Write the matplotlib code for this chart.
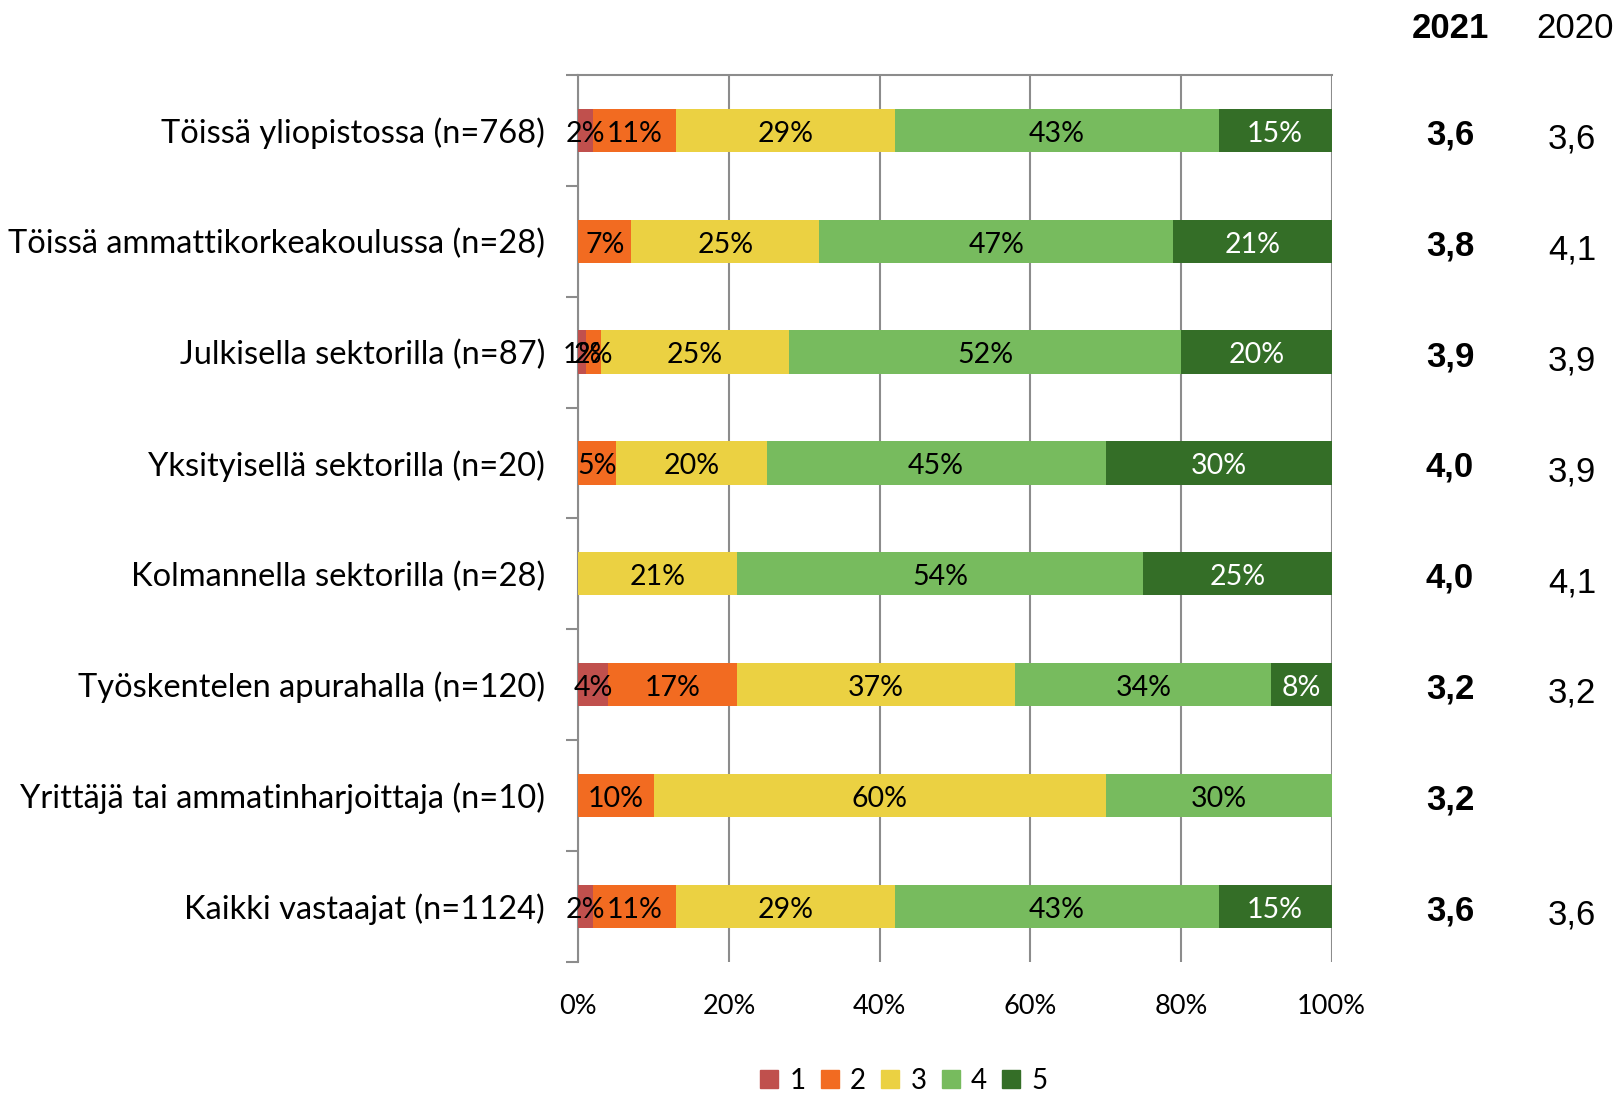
import numpy as np
import matplotlib
matplotlib.use("Agg")
import matplotlib.pyplot as plt
from matplotlib.patches import Patch

# DATA
categories = ['Töissä yliopistossa (n=768)',
              'Töissä ammattikorkeakoulussa (n=28)',
              'Julkisella sektorilla (n=87)',
              'Yksityisellä sektorilla (n=20)',
              'Kolmannella sektorilla (n=28)',
              'Työskentelen apurahalla (n=120)',
              'Yrittäjä tai ammatinharjoittaja (n=10)',
              'Kaikki vastaajat (n=1124)']
s1 = [2, 0, 1, 0, 0, 4, 0, 2]
s2 = [11, 7, 2, 5, 0, 17, 10, 11]
s3 = [29, 25, 25, 20, 21, 37, 60, 29]
s4 = [43, 47, 52, 45, 54, 34, 30, 43]
s5 = [15, 21, 20, 30, 25, 8, 0, 15]
series_names = ['1', '2', '3', '4', '5']
avg_2021 = ['3,6', '3,8', '3,9', '4,0', '4,0', '3,2', '3,2', '3,6']
avg_2020 = ['3,6', '4,1', '3,9', '3,9', '4,1', '3,2', '', '3,6']

colors = ['#C0504D', '#F26B21', '#EBD142', '#77BB5E', '#346E27']
text_colors = ['black', 'black', 'black', 'black', 'white']

plt.rcParams['font.family'] = ['Lato', 'DejaVu Sans']

fig = plt.figure(figsize=(16.2, 10.94), dpi=100)
ax = fig.add_axes([0.357, 0.121, 0.465, 0.8104])

y = np.arange(len(categories))
left = np.zeros(len(categories))
for vals, col, tcol, name in zip([s1, s2, s3, s4, s5], colors, text_colors, series_names):
    vals = np.array(vals, dtype=float)
    ax.barh(y, vals, left=left, height=0.39, color=col, label=name, zorder=3)
    for yi, (l, v) in enumerate(zip(left, vals)):
        if v > 0:
            ax.text(l + v / 2, yi + 0.03, f'{int(v)}%', ha='center', va='center',
                    fontsize=20.5, color=tcol, zorder=4)
    left += vals

ax.set_xlim(0, 100)
ax.set_ylim(len(categories) - 0.5, -0.5)
ax.set_xticks(np.arange(0, 101, 20))
ax.set_xticklabels([f'{v}%' for v in range(0, 101, 20)], fontsize=19.5)
ax.tick_params(axis='x', length=0, pad=23)
ax.set_yticks(y)
ax.set_yticklabels(categories, fontsize=23.5)
ax.tick_params(axis='y', which='major', length=0, pad=24)
ax.set_yticks(np.arange(-0.5, len(categories)), minor=True)
ax.tick_params(axis='y', which='minor', length=9, width=1.5, color='#8C8C8C', direction='out')
ax.grid(axis='x', color='#8C8C8C', lw=1.5, zorder=0)
for side in ['right', 'bottom']:
    ax.spines[side].set_visible(False)
for side in ['left', 'top']:
    ax.spines[side].set_color('#8C8C8C')
    ax.spines[side].set_linewidth(1.5)

# average columns
fig.text(1450 / 1620, 1 - 29 / 1094, '2021', ha='center', va='center',
         fontsize=25, fontweight='bold', family='Liberation Sans')
fig.text(1575 / 1620, 1 - 29 / 1094, '2020', ha='center', va='center',
         fontsize=25, family='Liberation Sans')
trans = matplotlib.transforms.blended_transform_factory(fig.transFigure, ax.transData)
for yi, (a, b) in enumerate(zip(avg_2021, avg_2020)):
    ax.text(1450 / 1620, yi + 0.04, a, transform=trans, ha='center', va='center',
            fontsize=25, fontweight='bold', family='Liberation Sans')
    if b:
        ax.text(1572 / 1620, yi + 0.08, b, transform=trans, ha='center', va='center',
                fontsize=25, family='Liberation Sans')

handles = [Patch(color=c, label=n) for c, n in zip(colors, series_names)]
fig.legend(handles=handles, loc='center', bbox_to_anchor=(0.558, 0.012), ncol=5,
           frameon=False, fontsize=20, handlelength=0.65, handleheight=0.65,
           handletextpad=0.4, columnspacing=0.55)

fig.savefig('out.png', dpi=100)
